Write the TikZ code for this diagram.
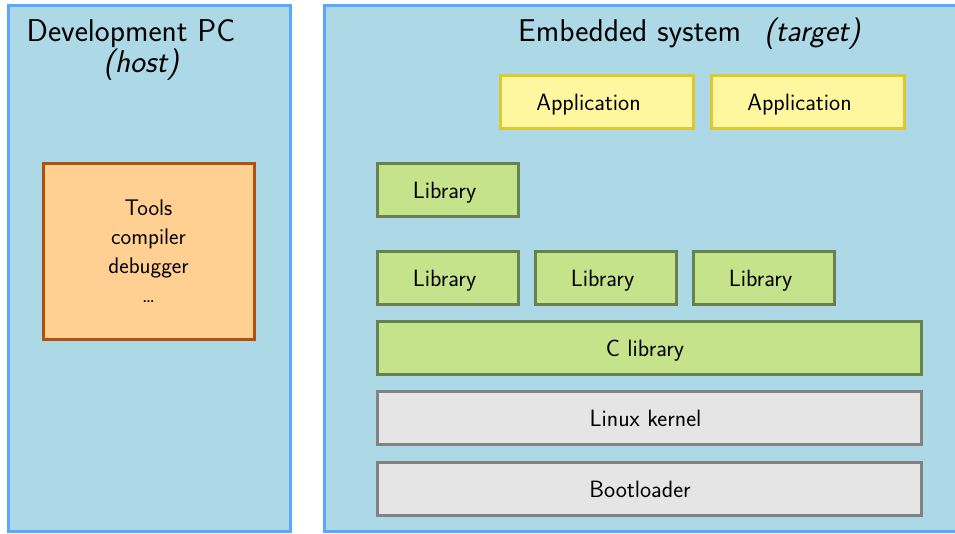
\documentclass[tikz,border=0pt]{standalone}
\usepackage{fontspec}
\renewcommand{\familydefault}{\sfdefault}
\definecolor{panelfill}{RGB}{173,216,230}
\definecolor{panelline}{RGB}{88,168,255}
\definecolor{appfill}{RGB}{255,246,160}
\definecolor{appline}{RGB}{221,200,50}
\definecolor{libfill}{RGB}{197,227,138}
\definecolor{libline}{RGB}{102,130,78}
\definecolor{sysfill}{RGB}{229,229,229}
\definecolor{sysline}{RGB}{130,130,130}
\definecolor{toolfill}{RGB}{255,208,145}
\definecolor{toolline}{RGB}{176,80,16}
% \txtleft{d}{text}: set text a little left of the box centre
\newcommand{\txtleft}[2]{\hspace*{-#1}#2}
\tikzset{
  panel/.style={draw=panelline, fill=panelfill, line width=3pt},
  layer/.style={draw, line width=3pt, inner sep=0pt, text height=17pt, text depth=0pt,
    font=\fontsize{23.6}{28}\selectfont},
  appbox/.style={layer, draw=appline, fill=appfill},
  libbox/.style={layer, draw=libline, fill=libfill},
  sysbox/.style={layer, draw=sysline, fill=sysfill},
  toolbox/.style={draw, line width=3pt, draw=toolline, fill=toolfill, align=center,
    font=\fontsize{22.6}{29}\selectfont},
  heading/.style={inner sep=0pt, font=\fontsize{31.5}{36}\selectfont},
}
\begin{document}
\begin{tikzpicture}[x=1pt, y=-1pt]
\useasboundingbox (0,0) rectangle (955,533);
% two frames: host and target
\draw[panel] (8,5) rectangle (290,531);
\draw[panel] (324,5) rectangle (965,531);
% headings
\node[heading] (hosttitle) at (131,33.5) {Development PC};
\node[heading] (hostnote) at (141,65) {\itshape (host)};
\node[heading, anchor=west] (tgttitle) at (518,34) {Embedded system};
\node[heading, anchor=west] (tgtnote) at (764,34) {\itshape (target)};
% development tools
\node[toolbox, minimum width=211pt, minimum height=176pt] (tools) at (148.5,251.5)
  {Tools\\compiler\\debugger\\\dots};
% software stack on the target
\node[appbox, minimum width=193pt, minimum height=53pt] (app1) at (596.5,101.5) {\txtleft{16pt}{Application}};
\node[appbox, minimum width=193pt, minimum height=53pt] (app2) at (807.5,101.5) {\txtleft{16pt}{Application}};
\node[libbox, minimum width=141pt, minimum height=53pt] (lib0) at (447.5,189.5) {\txtleft{6pt}{Library}};
\node[libbox, minimum width=141pt, minimum height=53pt] (lib1) at (447.5,277.5) {\txtleft{6pt}{Library}};
\node[libbox, minimum width=141pt, minimum height=53pt] (lib2) at (605.5,277.5) {\txtleft{6pt}{Library}};
\node[libbox, minimum width=141pt, minimum height=53pt] (lib3) at (763.5,277.5) {\txtleft{6pt}{Library}};
\node[libbox, minimum width=544pt, minimum height=53pt] (clib) at (649,348) {\txtleft{8pt}{C library}};
\node[sysbox, minimum width=544pt, minimum height=53pt] (kernel) at (649,417.5) {\txtleft{7pt}{Linux kernel}};
\node[sysbox, minimum width=544pt, minimum height=53pt] (boot) at (649,488.5) {\txtleft{18pt}{Bootloader}};
\end{tikzpicture}
\end{document}
